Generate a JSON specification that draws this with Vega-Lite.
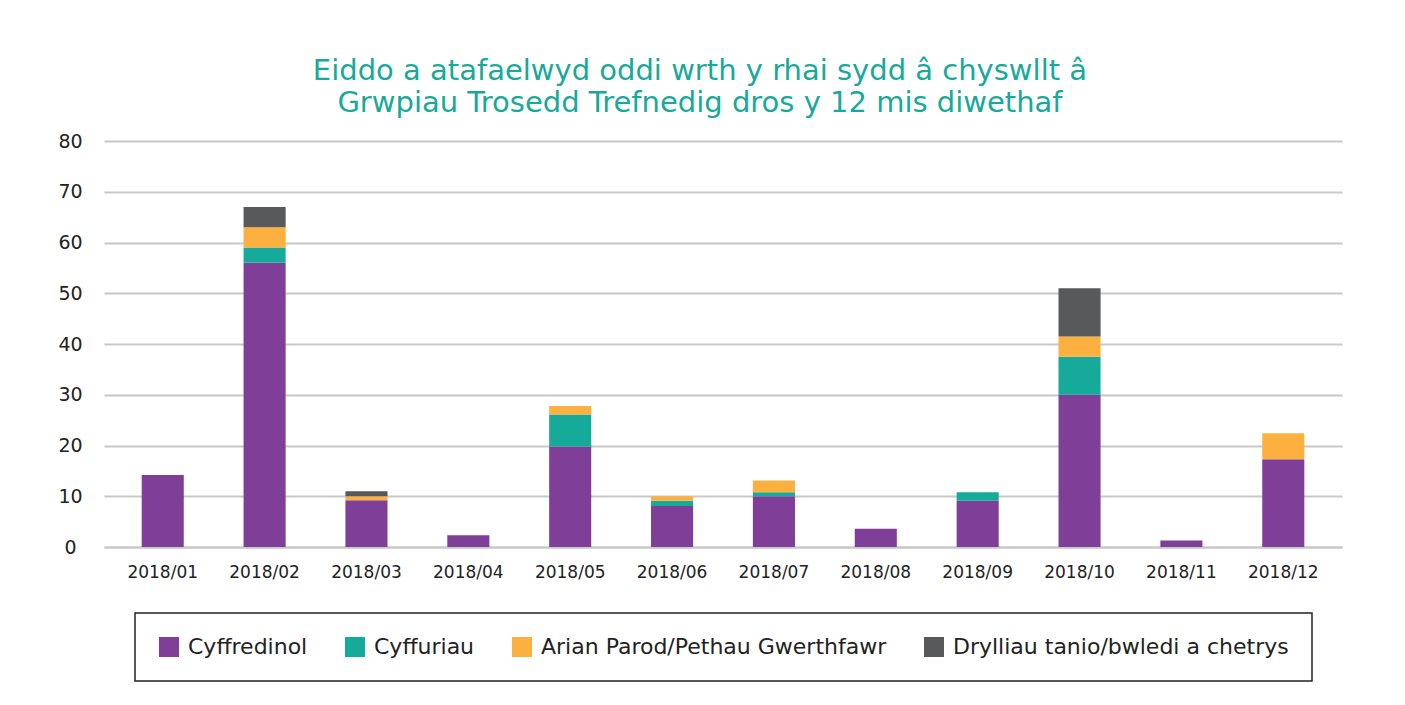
{
  "$schema": "https://vega.github.io/schema/vega-lite/v6.json",
  "width": 1238,
  "height": 406,
  "padding": {"left": 57, "top": 57, "right": 60, "bottom": 10},
  "background": "white",
  "title": {
    "text": ["Eiddo a atafaelwyd oddi wrth y rhai sydd â chyswllt â", "Grwpiau Trosedd Trefnedig dros y 12 mis diwethaf"],
    "font": "DejaVu Sans",
    "fontSize": 29,
    "fontWeight": "normal",
    "color": "#17a999",
    "lineHeight": 32,
    "anchor": "middle",
    "frame": "bounds",
    "offset": 14
  },
  "data": {
    "values": [
      {"month": "2018/01", "category": "Cyffredinol", "value": 14.2},
      {"month": "2018/02", "category": "Cyffredinol", "value": 56},
      {"month": "2018/02", "category": "Cyffuriau", "value": 3},
      {"month": "2018/02", "category": "Arian Parod/Pethau Gwerthfawr", "value": 4},
      {"month": "2018/02", "category": "Drylliau tanio/bwledi a chetrys", "value": 4},
      {"month": "2018/03", "category": "Cyffredinol", "value": 9.2},
      {"month": "2018/03", "category": "Arian Parod/Pethau Gwerthfawr", "value": 0.8},
      {"month": "2018/03", "category": "Drylliau tanio/bwledi a chetrys", "value": 1},
      {"month": "2018/04", "category": "Cyffredinol", "value": 2.3},
      {"month": "2018/05", "category": "Cyffredinol", "value": 19.8},
      {"month": "2018/05", "category": "Cyffuriau", "value": 6.3},
      {"month": "2018/05", "category": "Arian Parod/Pethau Gwerthfawr", "value": 1.7},
      {"month": "2018/06", "category": "Cyffredinol", "value": 8.1},
      {"month": "2018/06", "category": "Cyffuriau", "value": 1},
      {"month": "2018/06", "category": "Arian Parod/Pethau Gwerthfawr", "value": 0.9},
      {"month": "2018/07", "category": "Cyffredinol", "value": 10},
      {"month": "2018/07", "category": "Cyffuriau", "value": 0.8},
      {"month": "2018/07", "category": "Arian Parod/Pethau Gwerthfawr", "value": 2.3},
      {"month": "2018/08", "category": "Cyffredinol", "value": 3.6},
      {"month": "2018/09", "category": "Cyffredinol", "value": 9.1},
      {"month": "2018/09", "category": "Cyffuriau", "value": 1.7},
      {"month": "2018/10", "category": "Cyffredinol", "value": 30},
      {"month": "2018/10", "category": "Cyffuriau", "value": 7.5},
      {"month": "2018/10", "category": "Arian Parod/Pethau Gwerthfawr", "value": 4},
      {"month": "2018/10", "category": "Drylliau tanio/bwledi a chetrys", "value": 9.5},
      {"month": "2018/11", "category": "Cyffredinol", "value": 1.3},
      {"month": "2018/12", "category": "Cyffredinol", "value": 17.3},
      {"month": "2018/12", "category": "Arian Parod/Pethau Gwerthfawr", "value": 5.1}
    ]
  },
  "transform": [
    {"calculate": "indexof(['Cyffredinol','Cyffuriau','Arian Parod/Pethau Gwerthfawr','Drylliau tanio/bwledi a chetrys'], datum.category)", "as": "k"}
  ],
  "mark": {"type": "bar"},
  "encoding": {
    "x": {
      "field": "month",
      "type": "nominal",
      "title": null,
      "scale": {"paddingInner": 0.587, "paddingOuter": 0.37},
      "axis": {
        "labelAngle": 0,
        "labelFont": "DejaVu Sans",
        "labelFontSize": 17,
        "labelColor": "#222",
        "labelPadding": 17,
        "ticks": false,
        "domainColor": "#c8c8c8",
        "domainWidth": 2
      }
    },
    "y": {
      "field": "value",
      "type": "quantitative",
      "aggregate": "sum",
      "stack": "zero",
      "title": null,
      "scale": {"domain": [0, 80], "nice": false},
      "axis": {
        "values": [0, 10, 20, 30, 40, 50, 60, 70, 80],
        "labelFont": "DejaVu Sans",
        "labelFontSize": 19,
        "labelColor": "#222",
        "labelAlign": "center",
        "labelPadding": 34,
        "ticks": false,
        "domain": false,
        "gridColor": "#c8c8c8",
        "gridWidth": 2
      }
    },
    "color": {
      "field": "category",
      "type": "nominal",
      "title": null,
      "scale": {
        "domain": ["Cyffredinol", "Cyffuriau", "Arian Parod/Pethau Gwerthfawr", "Drylliau tanio/bwledi a chetrys"],
        "range": ["#7f3f98", "#16aa9a", "#fbb040", "#58595b"]
      },
      "legend": {
        "orient": "bottom",
        "direction": "horizontal",
        "symbolType": "square",
        "symbolSize": 400,
        "symbolStrokeWidth": 0,
        "labelFont": "DejaVu Sans",
        "labelFontSize": 22,
        "labelColor": "#222",
        "labelLimit": 500,
        "labelOffset": 8,
        "columnPadding": 36,
        "padding": 23,
        "strokeColor": "#222",
        "offset": 33,
        "encode": {"legend": {"update": {"strokeWidth": {"value": 1.5}}}}
      }
    },
    "order": {"field": "k", "type": "quantitative", "sort": "ascending"}
  },
  "config": {
    "view": {"stroke": null},
    "legend": {"layout": {"bottom": {"anchor": "middle"}}}
  }
}
